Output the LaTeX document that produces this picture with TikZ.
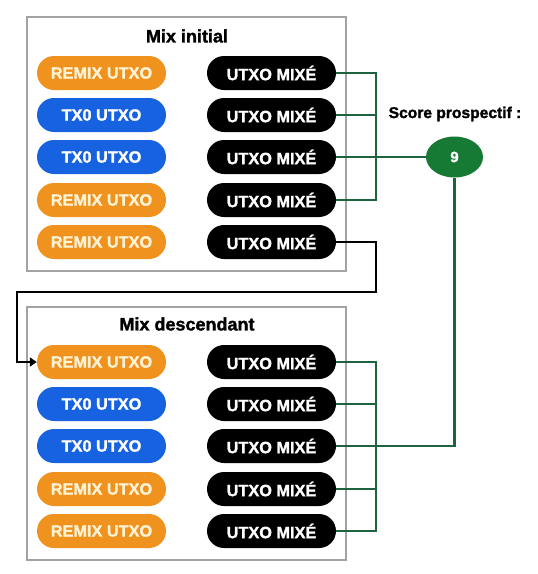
\documentclass[tikz,border=0pt]{standalone}
\usepackage{fontspec}
\setmainfont{Liberation Sans}[BoldFeatures={FakeBold=1.6}]
\usetikzlibrary{shapes.misc,shapes.geometric,arrows.meta}
\definecolor{orangepill}{HTML}{F0921E}
\definecolor{bluepill}{HTML}{1662E0}
\definecolor{greennode}{HTML}{167A35}
\definecolor{greenline}{HTML}{1E6340}
\definecolor{greybox}{HTML}{A3A3A3}
\definecolor{creamtext}{HTML}{FFF3D6}
\tikzset{
  pill/.style={rounded rectangle, minimum width=129pt, minimum height=34pt, inner sep=0pt,
    font=\fontsize{16.3}{17}\selectfont\bfseries},
  remix/.style={pill, fill=orangepill, text=creamtext},
  txo/.style={pill, fill=bluepill, text=white},
  mixed/.style={pill, fill=black, text=white},
  frame/.style={draw=greybox, line width=1.5pt, fill=white},
  title/.style={font=\fontsize{18}{20}\selectfont\bfseries},
  gline/.style={draw=greenline, line width=2.6pt},
  bline/.style={draw=black, line width=2.8pt},
}
\begin{document}
\begin{tikzpicture}[x=1pt,y=-1pt]
\useasboundingbox[fill=white] (0,0) rectangle (538,574);
% frames
\draw[frame] (27,17) rectangle (346,271);
\draw[frame] (27,307) rectangle (346,560);
\node[title] (t1) at (187,36) {Mix initial};
\node[title] (t2) at (187,324) {Mix descendant};
% top rows
\node[remix] (a1) at (101.5,73) {REMIX UTXO};
\node[txo]   (a2) at (101.5,115) {TX0 UTXO};
\node[txo]   (a3) at (101.5,157) {TX0 UTXO};
\node[remix] (a4) at (101.5,200) {REMIX UTXO};
\node[remix] (a5) at (101.5,242) {REMIX UTXO};
\node[mixed] (b1) at (271.5,73) {UTXO MIXÉ};
\node[mixed] (b2) at (271.5,115) {UTXO MIXÉ};
\node[mixed] (b3) at (271.5,157) {UTXO MIXÉ};
\node[mixed] (b4) at (271.5,200) {UTXO MIXÉ};
\node[mixed] (b5) at (271.5,242) {UTXO MIXÉ};
% bottom rows
\node[remix] (c1) at (101.5,362) {REMIX UTXO};
\node[txo]   (c2) at (101.5,404) {TX0 UTXO};
\node[txo]   (c3) at (101.5,446) {TX0 UTXO};
\node[remix] (c4) at (101.5,489) {REMIX UTXO};
\node[remix] (c5) at (101.5,531) {REMIX UTXO};
\node[mixed] (d1) at (271.5,362) {UTXO MIXÉ};
\node[mixed] (d2) at (271.5,404) {UTXO MIXÉ};
\node[mixed] (d3) at (271.5,446) {UTXO MIXÉ};
\node[mixed] (d4) at (271.5,489) {UTXO MIXÉ};
\node[mixed] (d5) at (271.5,531) {UTXO MIXÉ};
% score
\node[font=\fontsize{15.6}{17}\selectfont\bfseries] (sp) at (455,114) {Score prospectif :};
\node[ellipse, fill=greennode, text=white, minimum width=57pt, minimum height=41pt, inner sep=0pt,
  font=\fontsize{15}{16}\selectfont\bfseries] (s) at (454.5,157) {9};
% green connectors top
\coordinate (vt1) at (376,73);
\coordinate (vt4) at (376,200);
\draw[gline] (b1.east) -- (vt1) -- (vt4) -- (b4.east);
\draw[gline] (b2.east) -- (376,115);
\draw[gline] (b3.east) -- (s.west);
% green connectors bottom
\coordinate (vb1) at (376,362);
\coordinate (vb5) at (376,531);
\draw[gline] (d1.east) -- (vb1) -- (vb5) -- (d5.east);
\draw[gline] (d2.east) -- (376,404);
\draw[gline] (d4.east) -- (376,489);
\draw[gline] (d3.east) -- (s.south |- d3.east) -- (s.south);
% black connector
\coordinate (k1) at (376,242);
\coordinate (k2) at (376,292);
\coordinate (k3) at (17,292);
\draw[bline, -{Triangle[length=7pt,width=9pt]}] (b5.east) -- (k1) -- (k2) -- (k3) -- (k3 |- c1.west) -- (c1.west);
\end{tikzpicture}
\end{document}
